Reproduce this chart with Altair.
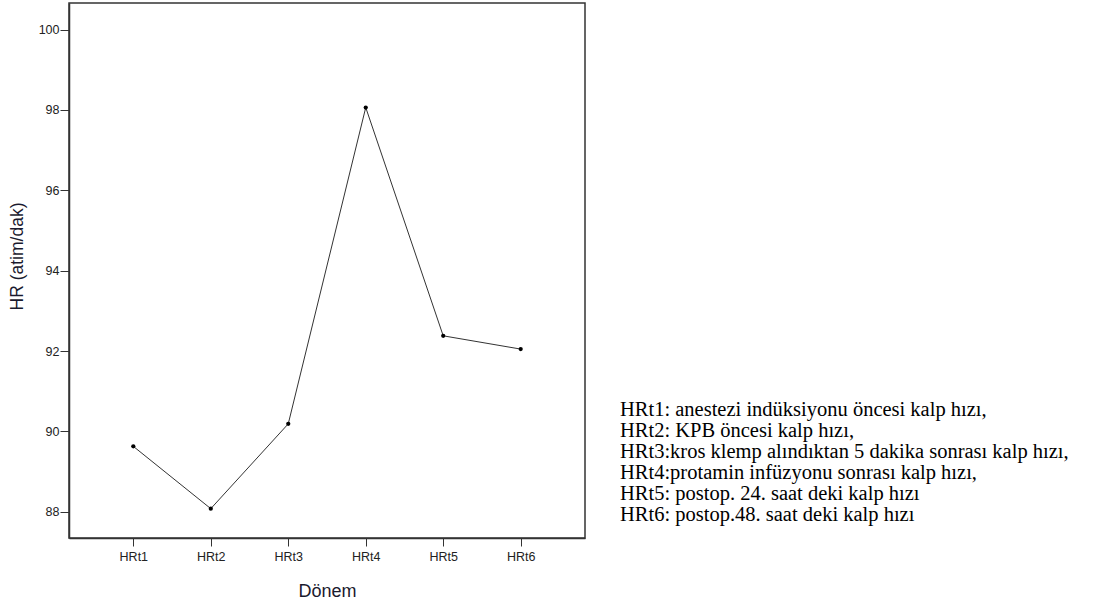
import altair as alt
import pandas as pd

# Heart rate by period
periods = ["HRt1", "HRt2", "HRt3", "HRt4", "HRt5", "HRt6"]
hr_values = [89.63, 88.08, 90.19, 98.06, 92.38, 92.05]

# Period descriptions shown beside the plot
notes = [
    "HRt1: anestezi indüksiyonu öncesi kalp hızı,",
    "HRt2: KPB öncesi kalp hızı,",
    "HRt3:kros klemp alındıktan 5 dakika sonrası kalp hızı,",
    "HRt4:protamin infüzyonu sonrası kalp hızı,",
    "HRt5: postop. 24. saat deki kalp hızı",
    "HRt6: postop.48. saat deki kalp hızı",
]

y_ticks = [88, 90, 92, 94, 96, 98, 100]

df = pd.DataFrame({"period": periods, "hr": hr_values})

x_enc = alt.X(
    "period:N",
    sort=periods,
    scale=alt.Scale(type="point", padding=0.83),
    axis=alt.Axis(
        title="Dönem",
        titleFont="Liberation Sans",
        titleFontSize=18,
        titleFontWeight="normal",
        titleColor="#1a1a2e",
        titlePadding=20,
        labelFont="Liberation Sans",
        labelFontSize=12.5,
        labelColor="#222",
        labelAngle=0,
        labelPadding=4,
        tickSize=8,
        tickColor="#333",
        domainColor="#333",
        domainWidth=1.5,
        grid=False,
    ),
)

y_enc = alt.Y(
    "hr:Q",
    scale=alt.Scale(domain=[87.35, 100.66], nice=False, zero=False),
    axis=alt.Axis(
        title="HR (atim/dak)",
        titleFont="Liberation Sans",
        titleFontSize=17.5,
        titleFontWeight="normal",
        titleColor="#1a1a2e",
        titlePadding=12,
        titleY=253,
        values=y_ticks,
        labelFont="Liberation Sans",
        labelFontSize=12.5,
        labelColor="#222",
        labelPadding=1,
        tickSize=9,
        tickColor="#333",
        domainColor="#333",
        domainWidth=1.5,
        grid=False,
    ),
)

line = alt.Chart(df).mark_line(color="#333", strokeWidth=1).encode(x=x_enc, y=y_enc)
points = alt.Chart(df).mark_point(filled=True, color="black", size=18, opacity=1).encode(
    x=alt.X("period:N", sort=periods), y="hr:Q"
)

notes_df = pd.DataFrame({"txt": ["\n".join(notes)]})
note_text = alt.Chart(notes_df).mark_text(
    align="left",
    baseline="top",
    lineBreak="\n",
    lineHeight=21,
    font="Liberation Serif",
    fontSize=20.5,
    color="black",
).encode(text="txt:N", x=alt.value(551), y=alt.value(397))

chart = (
    alt.layer(line, points, note_text)
    .properties(
        width=516,
        height=535,
        autosize=alt.AutoSizeParams(type="none"),
        padding={"left": 69, "top": 3, "right": 518, "bottom": 67},
        background="white",
    )
    .configure_view(stroke="#333", strokeWidth=1.5)
)

chart.save("out.html", embed_options={"renderer": "svg", "actions": False})
